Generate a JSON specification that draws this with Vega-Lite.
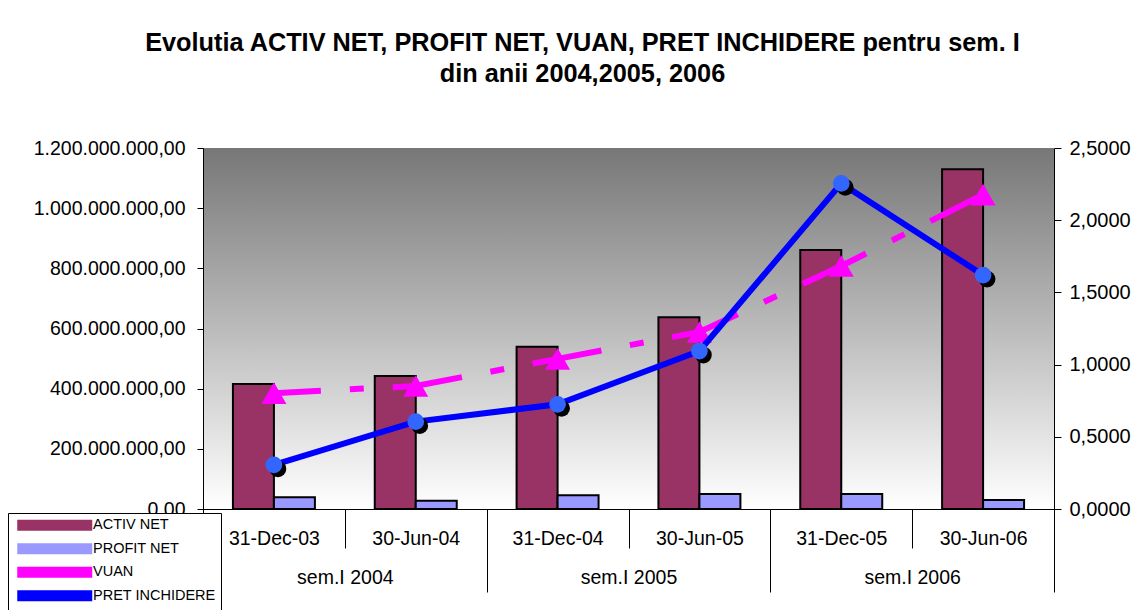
{
  "$schema": "https://vega.github.io/schema/vega-lite/v6.json",
  "autosize": {"type": "none"},
  "width": 851,
  "height": 361,
  "padding": {"left": 203, "top": 148, "right": 81, "bottom": 101},
  "background": "white",
  "config": {
    "font": "Liberation Sans",
    "view": {
      "stroke": null,
      "fill": {"gradient": "linear", "x1": 0, "y1": 0, "x2": 0, "y2": 1,
        "stops": [{"offset": 0, "color": "#777777"}, {"offset": 1, "color": "#ffffff"}]}
    },
    "axis": {"labelFont": "Liberation Sans", "labelColor": "black", "domainColor": "black", "tickColor": "black", "grid": false, "title": null, "domainWidth": 1, "tickWidth": 1},
    "legend": {
      "orient": "none", "legendX": -195, "legendY": 365, "title": null,
      "padding": 5, "strokeColor": "black", "fillColor": "white", "cornerRadius": 0,
      "symbolSize": 100, "symbolOffset": 34.5, "labelOffset": 31, "symbolStrokeWidth": 2,
      "symbolType": "M-7.3,-0.9H7.3V0.9H-7.3Z",
      "labelFont": "Liberation Sans", "labelFontSize": 14.5, "labelColor": "black", "rowPadding": 5.5
    }
  },
  "title": {
    "text": ["Evolutia ACTIV NET, PROFIT NET, VUAN, PRET INCHIDERE pentru sem. I", "din anii 2004,2005, 2006"],
    "font": "Liberation Sans", "fontSize": 25.3, "fontWeight": "bold", "lineHeight": 31,
    "anchor": "middle", "frame": "group", "dx": -46, "offset": 51, "color": "black"
  },
  "datasets": {
    "main": [
      {"date": "31-Dec-03", "group": "sem.I 2004", "series": "ACTIV NET", "value": 415500000},
      {"date": "30-Jun-04", "group": "sem.I 2004", "series": "ACTIV NET", "value": 442000000},
      {"date": "31-Dec-04", "group": "sem.I 2005", "series": "ACTIV NET", "value": 539500000},
      {"date": "30-Jun-05", "group": "sem.I 2005", "series": "ACTIV NET", "value": 637000000},
      {"date": "31-Dec-05", "group": "sem.I 2006", "series": "ACTIV NET", "value": 861000000},
      {"date": "30-Jun-06", "group": "sem.I 2006", "series": "ACTIV NET", "value": 1129000000},
      {"date": "31-Dec-03", "group": "sem.I 2004", "series": "PROFIT NET", "value": 39000000},
      {"date": "30-Jun-04", "group": "sem.I 2004", "series": "PROFIT NET", "value": 27600000},
      {"date": "31-Dec-04", "group": "sem.I 2005", "series": "PROFIT NET", "value": 45500000},
      {"date": "30-Jun-05", "group": "sem.I 2005", "series": "PROFIT NET", "value": 50000000},
      {"date": "31-Dec-05", "group": "sem.I 2006", "series": "PROFIT NET", "value": 50000000},
      {"date": "30-Jun-06", "group": "sem.I 2006", "series": "PROFIT NET", "value": 30000000},
      {"date": "31-Dec-03", "group": "sem.I 2004", "series": "VUAN", "value": 0.802},
      {"date": "30-Jun-04", "group": "sem.I 2004", "series": "VUAN", "value": 0.852},
      {"date": "31-Dec-04", "group": "sem.I 2005", "series": "VUAN", "value": 1.040},
      {"date": "30-Jun-05", "group": "sem.I 2005", "series": "VUAN", "value": 1.226},
      {"date": "31-Dec-05", "group": "sem.I 2006", "series": "VUAN", "value": 1.683},
      {"date": "30-Jun-06", "group": "sem.I 2006", "series": "VUAN", "value": 2.177},
      {"date": "31-Dec-03", "group": "sem.I 2004", "series": "PRET INCHIDERE", "value": 0.305},
      {"date": "30-Jun-04", "group": "sem.I 2004", "series": "PRET INCHIDERE", "value": 0.605},
      {"date": "31-Dec-04", "group": "sem.I 2005", "series": "PRET INCHIDERE", "value": 0.725},
      {"date": "30-Jun-05", "group": "sem.I 2005", "series": "PRET INCHIDERE", "value": 1.094},
      {"date": "31-Dec-05", "group": "sem.I 2006", "series": "PRET INCHIDERE", "value": 2.255},
      {"date": "30-Jun-06", "group": "sem.I 2006", "series": "PRET INCHIDERE", "value": 1.620}
    ]
  },
  "data": {"name": "main"},
  "resolve": {"scale": {"x": "independent", "y": "independent"}, "axis": {"x": "independent", "y": "independent"}},
  "layer": [
    {
      "resolve": {"scale": {"y": "independent"}, "axis": {"y": "independent"}},
      "layer": [
        {
          "transform": [{"filter": "datum.series === 'ACTIV NET' || datum.series === 'PROFIT NET'"}],
          "mark": {"type": "bar", "stroke": "black", "strokeWidth": 2},
          "encoding": {
            "x": {"field": "date", "type": "nominal", "sort": null,
              "scale": {"domain": ["31-Dec-03", "30-Jun-04", "31-Dec-04", "30-Jun-05", "31-Dec-05", "30-Jun-06"], "paddingInner": 0, "paddingOuter": 0},
              "axis": {"orient": "bottom", "labelAngle": 0, "labelFontSize": 19.5, "tickBand": "extent", "tickSize": 39, "labelPadding": -19, "domain": true}},
            "xOffset": {"field": "series", "type": "nominal", "sort": ["ACTIV NET", "PROFIT NET"], "scale": {"paddingInner": 0, "paddingOuter": 0.73}},
            "y": {"field": "value", "type": "quantitative",
              "scale": {"domain": [0, 1200000000], "nice": false},
              "axis": {"orient": "left", "values": [0, 200000000, 400000000, 600000000, 800000000, 1000000000, 1200000000],
                "labelFontSize": 19.5, "tickSize": 6, "labelPadding": 12,
                "labelExpr": "datum.value == 0 ? '0.00' : replace(replace(replace(format(datum.value, ',.2f'), /,/g, '#'), '.', ','), /#/g, '.')"}},
            "color": {"field": "series", "type": "nominal",
              "scale": {"domain": ["ACTIV NET", "PROFIT NET", "VUAN", "PRET INCHIDERE"], "range": ["#993366", "#9999FF", "#FF00FF", "#0000FF"]},
              "legend": {"symbolType": "M-7.3,-0.9H7.3V0.9H-7.3Z"}}
          }
        },
        {
          "layer": [
            {
              "transform": [{"filter": "datum.series === 'VUAN'"}],
              "mark": {"type": "line", "strokeWidth": 6, "strokeDash": [70, 29, 14, 29], "strokeDashOffset": 23},
              "encoding": {
                "x": {"field": "date", "type": "nominal", "sort": null},
                "y": {"field": "value", "type": "quantitative"},
                "color": {"field": "series", "type": "nominal"}
              }
            },
            {
              "transform": [{"filter": "datum.series === 'VUAN'"}],
              "mark": {"type": "point", "shape": "triangle-up", "size": 625, "filled": true, "color": "#FF00FF", "opacity": 1},
              "encoding": {
                "x": {"field": "date", "type": "nominal", "sort": null},
                "y": {"field": "value", "type": "quantitative"}
              }
            },
            {
              "transform": [{"filter": "datum.series === 'PRET INCHIDERE'"}],
              "mark": {"type": "line", "strokeWidth": 6},
              "encoding": {
                "x": {"field": "date", "type": "nominal", "sort": null},
                "y": {"field": "value", "type": "quantitative"},
                "color": {"field": "series", "type": "nominal"}
              }
            },
            {
              "transform": [{"filter": "datum.series === 'PRET INCHIDERE'"}],
              "mark": {"type": "point", "shape": "circle", "size": 280, "filled": true, "color": "black", "opacity": 1, "xOffset": 4, "yOffset": 4},
              "encoding": {
                "x": {"field": "date", "type": "nominal", "sort": null},
                "y": {"field": "value", "type": "quantitative"}
              }
            },
            {
              "transform": [{"filter": "datum.series === 'PRET INCHIDERE'"}],
              "mark": {"type": "point", "shape": "circle", "size": 280, "filled": true, "color": "#3366FF", "opacity": 1},
              "encoding": {
                "x": {"field": "date", "type": "nominal", "sort": null},
                "y": {"field": "value", "type": "quantitative",
                  "scale": {"domain": [0, 2.5], "nice": false},
                  "axis": {"orient": "right", "values": [0, 0.5, 1, 1.5, 2, 2.5], "labelFontSize": 20, "tickSize": 7, "labelPadding": 8,
                    "labelExpr": "replace(format(datum.value, '.4f'), '.', ',')"}}
              }
            }
          ]
        }
      ]
    },
    {
      "mark": {"type": "point", "opacity": 0},
      "encoding": {
        "x": {"field": "group", "type": "nominal", "sort": null,
          "scale": {"domain": ["sem.I 2004", "sem.I 2005", "sem.I 2006"], "paddingInner": 0, "paddingOuter": 0},
          "axis": {"orient": "bottom", "labelAngle": 0, "labelFontSize": 19.5, "tickBand": "extent", "tickSize": 83, "labelPadding": -24, "domain": false}}
      }
    }
  ]
}
